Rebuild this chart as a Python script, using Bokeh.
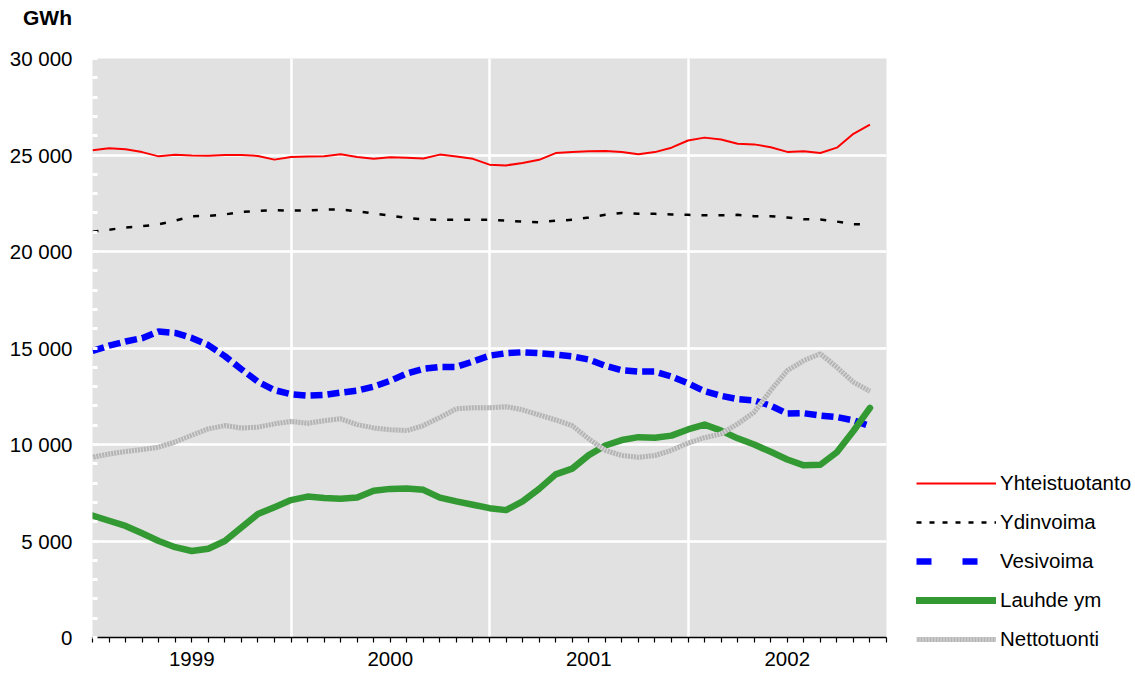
from bokeh.plotting import figure
from bokeh.models import FixedTicker, Legend, LegendItem, Range1d, Div
from bokeh.layouts import row, column
from bokeh.embed import file_html
from bokeh.resources import INLINE

# ---------------- data ----------------
months = list(range(48))  # Jan 1999 .. Dec 2002, monthly index
month_ticks = list(range(49))
year_bounds = [12, 24, 36]
years = ["1999", "2000", "2001", "2002"]
year_pos = [6, 18, 30, 42]
y_ticks = [0, 5000, 10000, 15000, 20000, 25000, 30000]
y_tick_labels = ["0", "5 000", "10 000", "15 000", "20 000", "25 000", "30 000"]
y_minor = list(range(0, 30001, 1000))
unit = "GWh"
series_names = ["Yhteistuotanto", "Ydinvoima", "Vesivoima", "Lauhde ym", "Nettotuonti"]

yhteistuotanto = [25250, 25350, 25300, 25150, 24930, 25010, 24980, 24960, 25000, 25000, 24950, 24760,
                  24900, 24920, 24930, 25040, 24900, 24800, 24880, 24860, 24820, 25020, 24920, 24800,
                  24500, 24460, 24590, 24750, 25100, 25150, 25190, 25210, 25160, 25040, 25150, 25380,
                  25750, 25900, 25800, 25580, 25550, 25400, 25160, 25200, 25100, 25380, 26100, 26580]
ydinvoima = [21030, 21130, 21240, 21310, 21410, 21600, 21830, 21850, 21920, 22050, 22100, 22140,
             22120, 22120, 22170, 22170, 22090, 21970, 21860, 21740, 21660, 21640, 21640, 21640,
             21650, 21600, 21550, 21520, 21590, 21640, 21760, 21900, 22000, 21950, 21950, 21920,
             21900, 21880, 21880, 21900, 21830, 21830, 21760, 21670, 21660, 21550, 21410, 21400]
vesivoima = [14850, 15120, 15340, 15510, 15860, 15780, 15520, 15150, 14580, 13900, 13250, 12820,
             12600, 12530, 12570, 12690, 12790, 13000, 13300, 13680, 13920, 14020, 14020, 14300,
             14600, 14730, 14780, 14730, 14660, 14570, 14400, 14080, 13850, 13780, 13780, 13520,
             13170, 12760, 12520, 12350, 12280, 12010, 11600, 11620, 11500, 11420, 11250, 10950]
lauhde = [6320, 6050, 5780, 5400, 5000, 4680, 4480, 4600, 5000, 5700, 6400, 6750,
          7120, 7300, 7230, 7190, 7250, 7600, 7700, 7720, 7650, 7250, 7050, 6880,
          6700, 6600, 7050, 7700, 8450, 8750, 9450, 9950, 10230, 10380, 10350, 10460,
          10780, 11030, 10720, 10320, 10000, 9620, 9220, 8920, 8950, 9600, 10700, 11900]
nettotuonti = [9340, 9510, 9640, 9740, 9860, 10130, 10480, 10810, 10980, 10860, 10900, 11070,
               11190, 11100, 11230, 11330, 11030, 10860, 10760, 10720, 10980, 11400, 11850, 11900,
               11900, 11960, 11800, 11530, 11270, 10980, 10290, 9700, 9430, 9340, 9430, 9700,
               10070, 10350, 10550, 11070, 11670, 12800, 13830, 14350, 14700, 14000, 13230, 12760]
series = [yhteistuotanto, ydinvoima, vesivoima, lauhde, nettotuonti]

FONT = "Liberation Sans"
FS = "20.5px"
RED, BLACK, BLUE, GREEN, GRAY = "#FF0000", "black", "#0000FF", "#339933", "#B4B4B4"

# ---------------- unit label ----------------
div = Div(text=unit, width=200, height=30, margin=0,
          styles={"font-family": FONT, "font-size": "21px", "font-weight": "bold",
                  "padding-left": "23px", "padding-top": "3px", "color": "black"})

# ---------------- main chart ----------------
p = figure(width=888, height=641, output_backend="svg", toolbar_location=None,
           x_range=Range1d(0, 48), y_range=Range1d(0, 30000),
           min_border_left=92, min_border_right=2, min_border_top=28, min_border_bottom=34)
p.border_fill_color = "white"
p.outline_line_color = None
p.background_fill_color = "#E1E1E1"

xa = p.xaxis[0]
xa.ticker = FixedTicker(ticks=year_pos, minor_ticks=month_ticks)
xa.major_label_overrides = {pos: lab for pos, lab in zip(year_pos, years)}
xa.major_label_text_font = FONT
xa.major_label_text_font_size = FS
xa.major_label_text_color = "black"
xa.major_label_standoff = 9
xa.axis_line_color = "black"
xa.axis_line_width = 1.5
xa.major_tick_line_color = None
xa.major_tick_in = 0
xa.major_tick_out = 0
xa.minor_tick_in = 0
xa.minor_tick_out = 5
xa.minor_tick_line_color = "black"
xa.minor_tick_line_width = 1.2

ya = p.yaxis[0]
ya.ticker = FixedTicker(ticks=y_ticks, minor_ticks=y_minor)
ya.major_label_overrides = {t: lab for t, lab in zip(y_ticks, y_tick_labels)}
ya.major_label_text_font = FONT
ya.major_label_text_font_size = FS
ya.major_label_text_color = "black"
ya.major_label_standoff = 20
ya.axis_line_color = None
ya.major_tick_line_color = None
ya.major_tick_in = 0
ya.major_tick_out = 0
ya.minor_tick_in = 5
ya.minor_tick_out = 0
ya.minor_tick_line_color = "white"
ya.minor_tick_line_width = 3

p.xgrid.ticker = FixedTicker(ticks=year_bounds)
p.xgrid.grid_line_color = "white"
p.xgrid.grid_line_width = 2.5
p.ygrid.grid_line_color = "white"
p.ygrid.grid_line_width = 2.5

p.line(months, yhteistuotanto, line_color=RED, line_width=2)
p.line(months, ydinvoima, line_color=BLACK, line_width=2.5, line_dash="6 11")
p.line(months, vesivoima, line_color=BLUE, line_width=6.5, line_dash="12 5")
p.line(months, lauhde, line_color=GREEN, line_width=6.5, line_cap="round", line_join="round")
p.line(months, nettotuonti, line_color=GRAY, line_width=5)
p.line(months, nettotuonti, line_color="white", line_width=5, line_dash="1 2", line_alpha=0.55)

# ---------------- legend panel (series kept outside its visible range) ----------------
p2 = figure(width=245, height=671, output_backend="svg", toolbar_location=None,
            x_range=Range1d(0, 1), y_range=Range1d(0, 1),
            x_axis_location=None, y_axis_location=None,
            min_border_left=0, min_border_right=0, min_border_top=0, min_border_bottom=0)
p2.outline_line_color = None
p2.background_fill_color = "white"
p2.border_fill_color = "white"
p2.xgrid.visible = False
p2.ygrid.visible = False

l1 = p2.line(months, yhteistuotanto, line_color=RED, line_width=2)
l2 = p2.line(months, ydinvoima, line_color=BLACK, line_width=2.5, line_dash="5 8")
l3 = p2.line(months, vesivoima, line_color=BLUE, line_width=6.5, line_dash="15 31")
l4 = p2.line(months, lauhde, line_color=GREEN, line_width=7, line_cap="round")
l5 = p2.line(months, nettotuonti, line_color=GRAY, line_width=5)
l5b = p2.line(months, nettotuonti, line_color="white", line_width=5, line_dash="1 2", line_alpha=0.55)

legend = Legend(items=[
    LegendItem(label=series_names[0], renderers=[l1]),
    LegendItem(label=series_names[1], renderers=[l2]),
    LegendItem(label=series_names[2], renderers=[l3]),
    LegendItem(label=series_names[3], renderers=[l4]),
    LegendItem(label=series_names[4], renderers=[l5, l5b]),
], location=(28, 20))
legend.background_fill_alpha = 0
legend.border_line_color = None
legend.padding = 0
legend.margin = 0
legend.glyph_width = 80
legend.glyph_height = 20
legend.label_standoff = 4
legend.spacing = 15
legend.label_text_font = FONT
legend.label_text_font_size = FS
legend.label_text_color = "black"
p2.add_layout(legend, "center")

layout = row(column(div, p, spacing=0), p2, spacing=0)
open("out.html", "w").write(file_html(layout, INLINE))
